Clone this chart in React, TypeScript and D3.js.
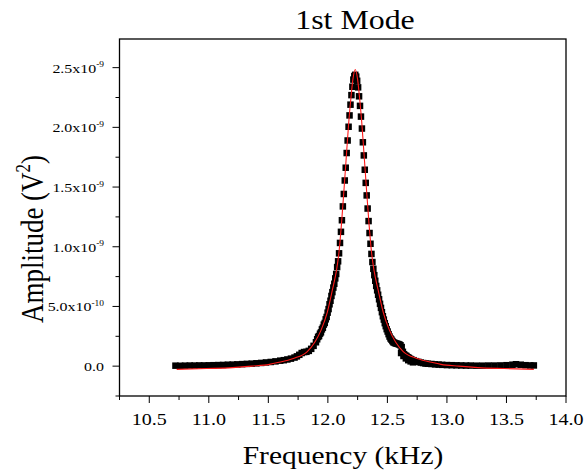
import React from "react";
import * as d3 from "d3";

// ---- Data (amplitude in units of 1e-9 V^2, frequency in kHz) ----
const dataFreq: number[] = [
  10.72, 10.76, 10.8, 10.84, 10.88, 10.92, 10.96, 11.0, 11.04, 11.08, 11.12, 11.16, 11.2, 11.24, 11.28, 11.32,
  11.36, 11.4, 11.44, 11.48, 11.52, 11.56, 11.6, 11.63, 11.66, 11.69, 11.72, 11.74, 11.76, 11.78, 11.8, 11.82,
  11.84, 11.86, 11.88, 11.9,
  11.91, 11.918, 11.926, 11.934, 11.942, 11.95, 11.958, 11.966, 11.974, 11.982,
  11.99, 11.998, 12.006, 12.014, 12.022, 12.03, 12.038, 12.046, 12.054, 12.062,
  12.07, 12.078, 12.086, 12.094, 12.102, 12.11, 12.118, 12.126, 12.134, 12.142,
  12.15, 12.158, 12.166, 12.174, 12.182, 12.19, 12.198, 12.206, 12.214, 12.222,
  12.23,
  12.238, 12.246, 12.254, 12.262, 12.27, 12.278, 12.286, 12.294, 12.302, 12.31,
  12.318, 12.326, 12.334, 12.342, 12.35, 12.358, 12.366, 12.374, 12.382, 12.39,
  12.398, 12.406, 12.414, 12.422, 12.43, 12.438, 12.446, 12.454, 12.462, 12.47,
  12.478, 12.486, 12.494, 12.502, 12.51, 12.518, 12.526, 12.534, 12.542, 12.55,
  12.56, 12.57, 12.58, 12.59, 12.6, 12.61, 12.62, 12.63, 12.64, 12.65, 12.66, 12.67, 12.68, 12.69, 12.7,
  12.72, 12.74, 12.76, 12.78, 12.8, 12.82, 12.84, 12.87, 12.9, 12.93, 12.96, 13.0, 13.04, 13.08, 13.12,
  13.16, 13.2, 13.25, 13.3, 13.35, 13.4, 13.45, 13.5, 13.55, 13.58, 13.62, 13.66, 13.7, 13.73,
  12.615, 12.635, 12.655, 12.675, 12.695, 12.715,
];
const dataAmp: number[] = [
  0.004, 0.003, 0.004, 0.005, 0.005, 0.006, 0.006, 0.007, 0.008, 0.009, 0.01, 0.012, 0.013, 0.015, 0.017, 0.019,
  0.021, 0.024, 0.027, 0.031, 0.035, 0.04, 0.046, 0.05, 0.056, 0.063, 0.072, 0.082, 0.095, 0.11, 0.118, 0.12,
  0.128, 0.145, 0.17, 0.2,
  0.225, 0.245, 0.252, 0.272, 0.283, 0.308, 0.322, 0.348, 0.362, 0.392,
  0.412, 0.448, 0.478, 0.518, 0.548, 0.588, 0.62, 0.658, 0.69, 0.735,
  0.772, 0.83, 0.878, 0.945, 1.032, 1.125, 1.222, 1.338, 1.442, 1.555,
  1.662, 1.785, 1.89, 2.005, 2.1, 2.19, 2.27, 2.34, 2.4, 2.43,
  2.44,
  2.425, 2.39, 2.335, 2.26, 2.18, 2.09, 1.99, 1.875, 1.765, 1.645,
  1.535, 1.43, 1.32, 1.215, 1.115, 1.025, 0.94, 0.872, 0.815, 0.762,
  0.715, 0.672, 0.635, 0.598, 0.56, 0.522, 0.488, 0.452, 0.418, 0.39,
  0.36, 0.335, 0.31, 0.29, 0.268, 0.248, 0.232, 0.222, 0.21, 0.2,
  0.195, 0.19, 0.188, 0.185, 0.182, 0.175, 0.16, 0.12, 0.1, 0.09, 0.085, 0.075, 0.07, 0.062, 0.058,
  0.05, 0.042, 0.036, 0.03, 0.026, 0.022, 0.02, 0.018, 0.015, 0.013, 0.011, 0.009, 0.008, 0.007, 0.006,
  0.005, 0.005, 0.004, 0.004, 0.005, 0.005, 0.006, 0.008, 0.012, 0.016, 0.012, 0.008, 0.006, 0.006,
  0.11, 0.085, 0.065, 0.05, 0.04, 0.032,
];

// Fitted curve (red)
const fitFreq: number[] = [
  10.73, 10.98, 11.2, 11.36, 11.51, 11.58, 11.71, 11.825, 11.89, 11.943, 11.995, 12.038, 12.072, 12.093,
  12.115, 12.137, 12.158, 12.176, 12.194, 12.21, 12.23, 12.25, 12.266, 12.284, 12.302, 12.323, 12.345,
  12.367, 12.388, 12.422, 12.465, 12.517, 12.57, 12.635, 12.75, 12.88, 12.95, 13.1, 13.26, 13.48, 13.73,
];
const fitAmp: number[] = [
  -0.027, -0.02, -0.012, 0.0, 0.015, 0.03, 0.065, 0.12, 0.2, 0.302, 0.45, 0.638, 0.8, 0.95,
  1.2, 1.5, 1.8, 2.05, 2.25, 2.4, 2.485, 2.4, 2.25, 2.05, 1.8, 1.5, 1.2,
  0.95, 0.8, 0.638, 0.45, 0.302, 0.2, 0.12, 0.065, 0.03, 0.015, 0.0, -0.012, -0.02, -0.027,
];

// Axis ticks
const xTicks: number[] = [10.5, 11.0, 11.5, 12.0, 12.5, 13.0, 13.5, 14.0];
const xTickLabels: string[] = ["10.5", "11.0", "11.5", "12.0", "12.5", "13.0", "13.5", "14.0"];
const xMinorTicks: number[] = [10.25, 10.75, 11.25, 11.75, 12.25, 12.75, 13.25, 13.75];
const yTicks: number[] = [0, 0.5, 1.0, 1.5, 2.0, 2.5];
const yTickMantissa: string[] = ["0.0", "5.0x10", "1.0x10", "1.5x10", "2.0x10", "2.5x10"];
const yTickExp: string[] = ["", "-10", "-9", "-9", "-9", "-9"];
const yMinorTicks: number[] = [-0.25, 0.25, 0.75, 1.25, 1.75, 2.25];

const titleText = "1st Mode";
const xTitle = "Frequency (kHz)";

const W = 584;
const H = 474;
const FONT = "Liberation Serif, Times New Roman, DejaVu Serif, serif";
const SX = 1.18;
const txt = { fontFamily: FONT };

export default function App() {
  const x = d3.scaleLinear().domain([10.25, 14.0]).range([119.5, 566]);
  const y = d3.scaleLinear().domain([-0.25, 2.74]).range([396, 39]);
  const [x0, x1] = x.range();
  const [y0, y1] = y.range();

  const line = d3
    .line<number>()
    .x((_, i) => x(fitFreq[i]))
    .y((_, i) => y(fitAmp[i]))
    .curve(d3.curveMonotoneX);

  const ms = 6.5;

  return (
    <svg
      width={W}
      height={H}
      viewBox={`0 0 ${W} ${H}`}
      style={{ position: "absolute", left: 0, top: 0, background: "#fff", fontFamily: FONT }}
    >
      <rect x={0} y={0} width={W} height={H} fill="#fff" />
      {/* markers */}
      <g fill="#000">
        {dataFreq.map((f, i) => (
          <rect key={i} x={x(f) - ms / 2} y={y(dataAmp[i]) - ms / 2} width={ms} height={ms} />
        ))}
      </g>
      {/* fit */}
      <path d={line(fitAmp) || ""} fill="none" stroke="#ff1a1a" strokeWidth={1.1} />

      {/* frame */}
      <rect x={x0} y={y1} width={x1 - x0} height={y0 - y1} fill="none" stroke="#000" strokeWidth={1.3} />

      {/* ticks */}
      <g stroke="#000" strokeWidth={1}>
        {xTicks.map((t) => (
          <line key={"xt" + t} x1={x(t)} x2={x(t)} y1={y0} y2={y0 + 7} />
        ))}
        {xMinorTicks.map((t) => (
          <line key={"xm" + t} x1={x(t)} x2={x(t)} y1={y0} y2={y0 + 4} />
        ))}
        {yTicks.map((t) => (
          <line key={"yt" + t} x1={x0 - 7} x2={x0} y1={y(t)} y2={y(t)} />
        ))}
        {yMinorTicks.map((t) => (
          <line key={"ym" + t} x1={x0 - 4} x2={x0} y1={y(t)} y2={y(t)} />
        ))}
      </g>

      {/* x tick labels */}
      {xTicks.map((t, i) => (
        <g key={"xl" + t} transform={`translate(${x(t)},425) scale(${SX},1)`}>
          <text textAnchor="middle" fontSize={17} fill="#000" style={txt}>
            {xTickLabels[i]}
          </text>
        </g>
      ))}

      {/* y tick labels */}
      {yTicks.map((t, i) => (
        <g key={"yl" + t} transform={`translate(104,${y(t) + 5}) scale(${SX},1)`}>
          <text textAnchor="end" fontSize={13.5} fill="#000" style={txt}>
            {yTickMantissa[i]}
            {yTickExp[i] ? (
              <tspan fontSize={8} dy={-5.5}>
                {yTickExp[i]}
              </tspan>
            ) : null}
          </text>
        </g>
      ))}

      {/* title */}
      <g transform={`translate(355,29) scale(${SX},1)`}>
        <text textAnchor="middle" fontSize={27} fill="#000" style={txt}>
          {titleText}
        </text>
      </g>

      {/* x axis title */}
      <g transform={`translate(343,464) scale(${SX},1)`}>
        <text textAnchor="middle" fontSize={25} fill="#000" style={txt}>
          {xTitle}
        </text>
      </g>

      {/* y axis title */}
      <g transform={`translate(43,239) scale(${SX},1) rotate(-90)`}>
        <text textAnchor="middle" fontSize={27} fill="#000" style={txt}>
          Amplitude (V
          <tspan fontSize={17} dy={-11}>
            2
          </tspan>
          <tspan dy={11}>)</tspan>
        </text>
      </g>
    </svg>
  );
}
